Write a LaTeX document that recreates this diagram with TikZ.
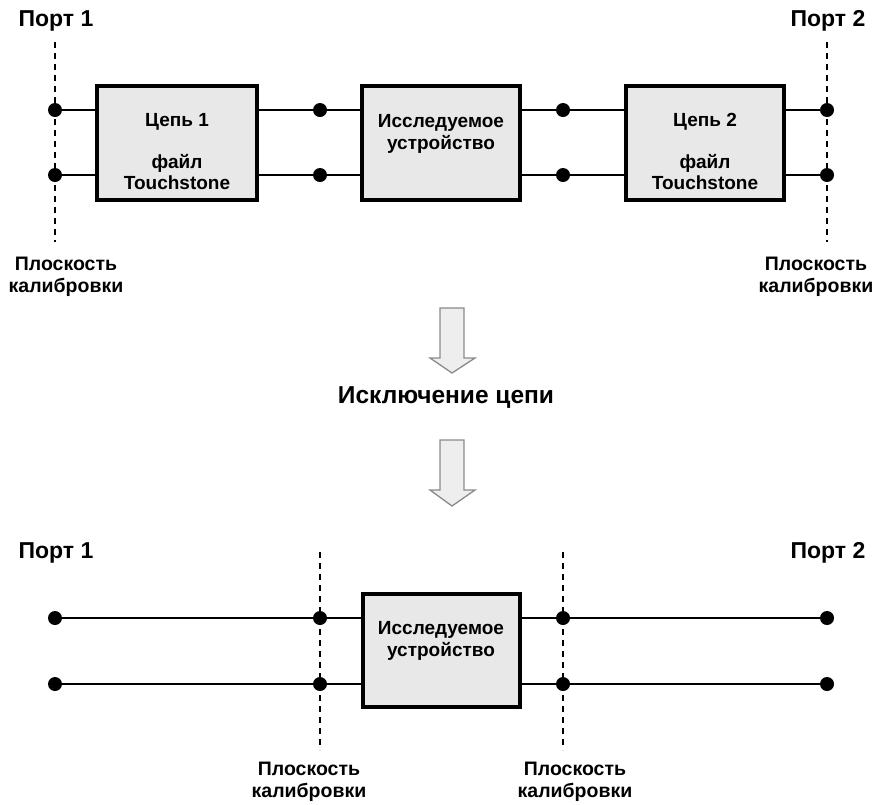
\documentclass[tikz,border=0pt]{standalone}
\usepackage{fontspec}
\setmainfont{Liberation Sans}
\begin{document}
\begin{tikzpicture}[x=1pt,y=-1pt,
  dotn/.style={circle,fill=black,inner sep=0pt,minimum size=14pt},
  blk/.style={draw=black,line width=3.5pt,fill=boxgray,inner sep=0pt},
  wire/.style={line width=1.6pt},
  plane/.style={line width=1.3pt,dash pattern=on 6pt off 5pt},
  lbl/.style={font=\fontsize{19}{22}\selectfont\bfseries,inner sep=0pt,align=center},
  portlbl/.style={font=\fontsize{23}{26}\selectfont\bfseries,inner sep=0pt},
  plbl/.style={font=\fontsize{19.5}{22}\selectfont\bfseries,inner sep=0pt,align=center},
  bigarrow/.style={draw=arrgray,line width=1.3pt,fill=arrfill}]
\definecolor{boxgray}{HTML}{E8E8E8}
\definecolor{arrgray}{HTML}{8A8A8A}
\definecolor{arrfill}{HTML}{EEEEEE}
\useasboundingbox (0,0) rectangle (877,804);

% ---------- top ----------
\node[portlbl] (p1t) at (56,21) {Порт 1};
\node[portlbl] (p2t) at (828,21) {Порт 2};
\coordinate (d1a) at (55,42);
\coordinate (d1b) at (55,242);
\coordinate (d2a) at (827,42);
\coordinate (d2b) at (827,242);
\draw[plane] (d1a) -- (d1b);
\draw[plane] (d2a) -- (d2b);

\node[blk,minimum width=160pt,minimum height=114pt] (c1) at (177,143) {};
\node[blk,minimum width=158pt,minimum height=114pt] (dut) at (441,143) {};
\node[blk,minimum width=158pt,minimum height=114pt] (c2) at (705,143) {};

\node[dotn] (a1) at (55,110) {};
\node[dotn] (a2) at (55,175) {};
\node[dotn] (b1) at (320,110) {};
\node[dotn] (b2) at (320,175) {};
\node[dotn] (e1) at (563,110) {};
\node[dotn] (e2) at (563,175) {};
\node[dotn] (f1) at (827,110) {};
\node[dotn] (f2) at (827,175) {};

\draw[wire] (a1) -- (a1 -| c1.west);
\draw[wire] (a2) -- (a2 -| c1.west);
\draw[wire] (b1 -| c1.east) -- (b1) -- (b1 -| dut.west);
\draw[wire] (b2 -| c1.east) -- (b2) -- (b2 -| dut.west);
\draw[wire] (e1 -| dut.east) -- (e1) -- (e1 -| c2.west);
\draw[wire] (e2 -| dut.east) -- (e2) -- (e2 -| c2.west);
\draw[wire] (f1 -| c2.east) -- (f1);
\draw[wire] (f2 -| c2.east) -- (f2);

\node[lbl] (c1t) at (177,122) {Цепь 1};
\node[lbl] (c1f) at (177,172) {файл\\[-1pt]Touchstone};
\node[lbl] (dutt) at (441,134) {Исследуемое\\устройство};
\node[lbl] (c2t) at (705,122) {Цепь 2};
\node[lbl] (c2f) at (705,172) {файл\\[-1pt]Touchstone};

\node[plbl] (pl1) at (66,277) {Плоскость\\калибровки};
\node[plbl] (pl2) at (816,277) {Плоскость\\калибровки};

% ---------- middle ----------
\draw[bigarrow] (440,308) -- (464,308) -- (464,358) -- (475,358) -- (452,373)
  -- (430,358) -- (440,358) -- cycle;
\node[font=\fontsize{24.5}{28}\selectfont\bfseries,inner sep=0pt] (excl) at (446,398) {Исключение цепи};
\draw[bigarrow] (440,440) -- (464,440) -- (464,490) -- (475,490) -- (452,506)
  -- (430,490) -- (440,490) -- cycle;

% ---------- bottom ----------
\node[portlbl] (p1b) at (56,553) {Порт 1};
\node[portlbl] (p2b) at (828,553) {Порт 2};
\coordinate (g1a) at (320,552);
\coordinate (g1b) at (320,750);
\coordinate (g2a) at (563,552);
\coordinate (g2b) at (563,750);
\draw[plane] (g1a) -- (g1b);
\draw[plane] (g2a) -- (g2b);

\node[blk,minimum width=157pt,minimum height=113pt] (dutb) at (441.5,650.5) {};
\node[lbl] (dutbt) at (441,641) {Исследуемое\\устройство};

\node[dotn] (h1) at (55,618) {};
\node[dotn] (h2) at (55,684) {};
\node[dotn] (i1) at (320,618) {};
\node[dotn] (i2) at (320,684) {};
\node[dotn] (j1) at (563,618) {};
\node[dotn] (j2) at (563,684) {};
\node[dotn] (k1) at (827,618) {};
\node[dotn] (k2) at (827,684) {};

\draw[wire] (h1) -- (i1) -- (i1 -| dutb.west);
\draw[wire] (h2) -- (i2) -- (i2 -| dutb.west);
\draw[wire] (j1 -| dutb.east) -- (j1) -- (k1);
\draw[wire] (j2 -| dutb.east) -- (j2) -- (k2);

\node[plbl] (pl3) at (309,782) {Плоскость\\калибровки};
\node[plbl] (pl4) at (575,782) {Плоскость\\калибровки};
\end{tikzpicture}
\end{document}
